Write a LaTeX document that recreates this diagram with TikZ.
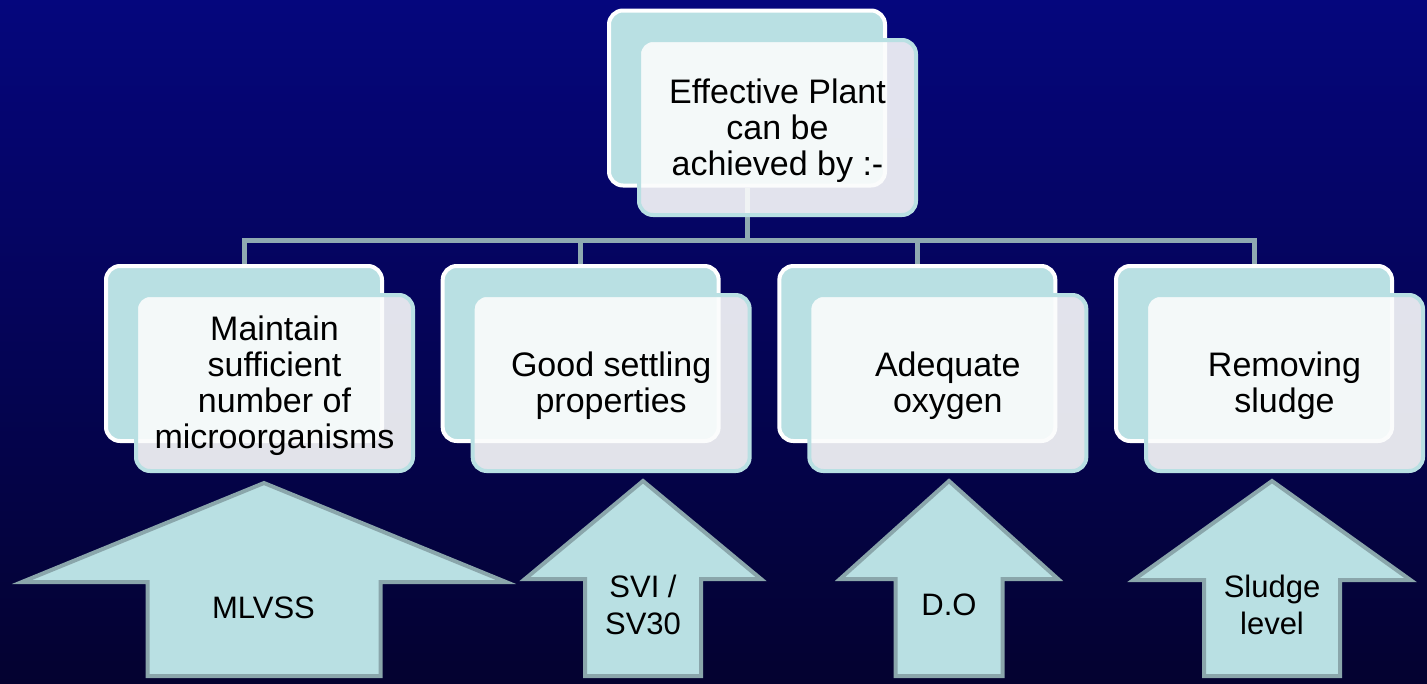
\documentclass[tikz,border=0pt]{standalone}
\usepackage{fontspec}
\setmainfont{Liberation Sans}

\definecolor{bgtop}{RGB}{5,6,125}
\definecolor{bgbot}{RGB}{4,2,48}
\definecolor{paleteal}{RGB}{185,224,227}
\definecolor{linegray}{RGB}{143,170,177}
\definecolor{arrowedge}{RGB}{138,166,171}
\definecolor{frontfill}{RGB}{251,252,252}

\tikzset{
  backbox/.style={draw=white, line width=4pt, fill=paleteal, rounded corners=14pt,
    minimum width=276pt, minimum height=175pt, inner sep=0pt},
  frontbox/.style={draw=paleteal, line width=4pt, fill=frontfill, fill opacity=0.9,
    rounded corners=14pt, minimum width=277pt, minimum height=176pt, inner sep=0pt},
  boxlabel/.style={align=center, inner sep=0pt, text=black,
    font=\fontsize{34}{36}\selectfont},
  link/.style={draw=linegray, line width=5pt, line join=miter},
  blockarrow/.style={fill=paleteal, draw=arrowedge, line width=4pt, line join=miter},
  arrowlabel/.style={align=center, inner sep=0pt, text=black,
    font=\fontsize{31}{37}\selectfont}
}

% upward block arrow: centre x, tip y, head base y, head half width, shaft half width, bottom y
\newcommand\blockup[6]{%
  \draw[blockarrow] (#1,#2) -- (#1+#4,#3) -- (#1+#5,#3) -- (#1+#5,#6)
    -- (#1-#5,#6) -- (#1-#5,#3) -- (#1-#4,#3) -- cycle;}

\begin{document}
\begin{tikzpicture}[x=1pt, y=-1pt]
  \useasboundingbox (0,0) rectangle (1427,683);
  % background
  \fill[top color=bgtop, bottom color=bgbot] (0,0) rectangle (1427,683);

  % level of the horizontal bus
  \coordinate (bus) at (0,240.5);

  % node positions (back boxes only, for the connectors)
  \path (747,98) node[backbox, draw=none, fill=none] (tb) {}
        (244,353.5) node[backbox, draw=none, fill=none] (b1) {}
        (580.67,353.5) node[backbox, draw=none, fill=none] (b2) {}
        (917.33,353.5) node[backbox, draw=none, fill=none] (b3) {}
        (1254,353.5) node[backbox, draw=none, fill=none] (b4) {};

  % connectors
  \draw[link] (tb.south) -- (tb.south |- bus);
  \draw[link] (b1.north) -- (b1.north |- bus) -- (b4.north |- bus) -- (b4.north);
  \draw[link] (b2.north |- bus) -- (b2.north);
  \draw[link] (b3.north |- bus) -- (b3.north);

  % top box
  \node[backbox] at (tb) {};
  \node[frontbox, minimum height=175pt] (tf) at (777.5,127.5) {};
  \node[boxlabel] (tt) at ([yshift=-3pt]tf.center) {Effective Plant\\can be\\achieved by :-};

  % child boxes
  \node[backbox] at (b1) {};
  \node[frontbox] (f1) at (274.5,383) {};
  \node[boxlabel] (t1) at ([yshift=-3pt]f1.center) {Maintain\\sufficient\\number of\\microorganisms};
  \node[backbox] at (b2) {};
  \node[frontbox] (f2) at (611.17,383) {};
  \node[boxlabel] (t2) at ([yshift=-3pt]f2.center) {Good settling\\properties};
  \node[backbox] at (b3) {};
  \node[frontbox] (f3) at (947.83,383) {};
  \node[boxlabel] (t3) at ([yshift=-3pt]f3.center) {Adequate\\oxygen};
  \node[backbox] at (b4) {};
  \node[frontbox] (f4) at (1284.5,383) {};
  \node[boxlabel] (t4) at ([yshift=-3pt]f4.center) {Removing\\sludge};

  % block arrows
  \blockup{264}{483}{582}{242}{116.5}{676}
  \blockup{643}{481}{579}{118}{58}{676}
  \blockup{949}{481}{579}{109}{53.5}{676}
  \blockup{1272}{481}{580}{138.5}{68}{676}

  \node[arrowlabel] (a1) at (263.5,608) {MLVSS};
  \node[arrowlabel] (a2) at (643,605) {SVI /\\SV30};
  \node[arrowlabel] (a3) at (949,605) {D.O};
  \node[arrowlabel] (a4) at (1272,605) {Sludge\\level};
\end{tikzpicture}
\end{document}
